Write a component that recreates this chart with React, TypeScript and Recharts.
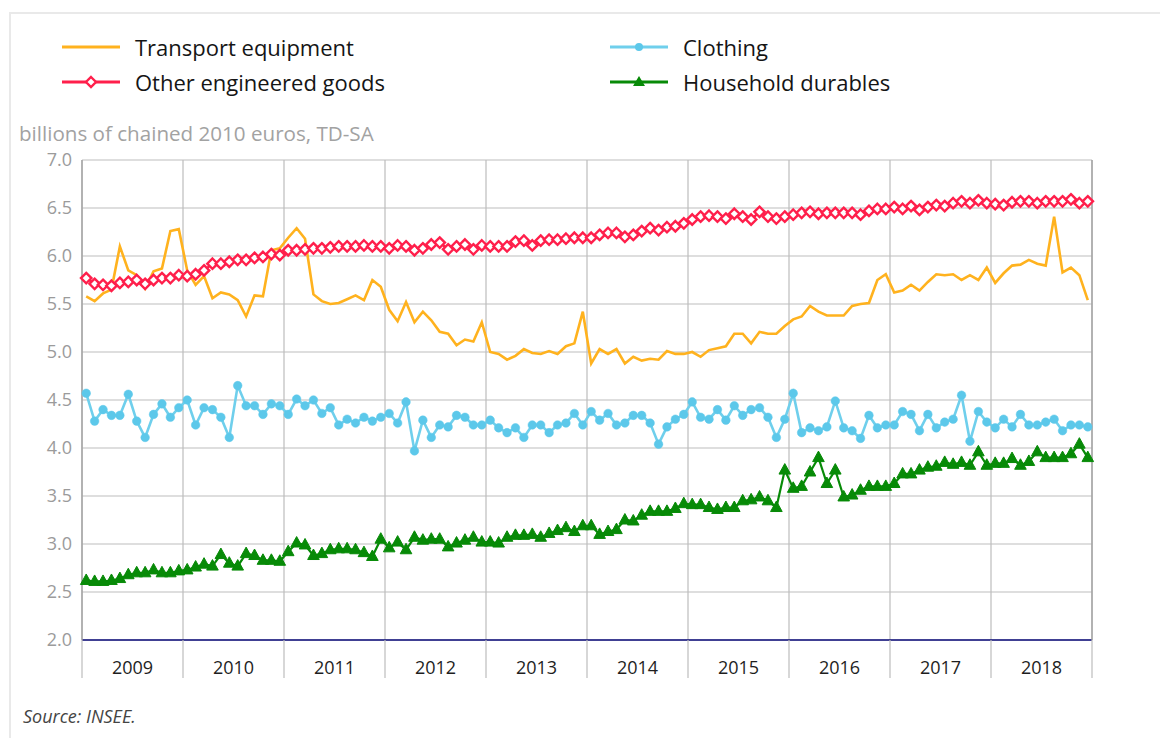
import React from 'react';
import { CartesianGrid, Line, LineChart, XAxis, YAxis } from 'recharts';

const FONT = "'Open Sans', sans-serif";
const GRID = '#BDBDBD';
const AXIS = '#A3A3A3';
const LABEL = '#9B9B9B';

const ORANGE = '#FFB21E';
const RED = '#FF1F4B';
const BLUE = '#6FCFEC';
const BLUE_DOT = '#5CC8EA';
const GREEN = '#078A07';

const YEARS = ['2009', '2010', '2011', '2012', '2013', '2014', '2015', '2016', '2017', '2018'];

// monthly values, Jan 2009 .. Dec 2018
const TRANSPORT = [
  5.58, 5.53, 5.61, 5.65, 6.1, 5.85, 5.8, 5.66, 5.84, 5.87, 6.26, 6.28,
  5.85, 5.7, 5.79, 5.56, 5.62, 5.6, 5.54, 5.37, 5.59, 5.58, 6.06, 6.08,
  6.19, 6.29, 6.18, 5.6, 5.53, 5.5, 5.51, 5.55, 5.59, 5.54, 5.75, 5.68,
  5.44, 5.32, 5.52, 5.31, 5.42, 5.33, 5.21, 5.19, 5.07, 5.13, 5.11, 5.31,
  5.0, 4.98, 4.92, 4.96, 5.03, 4.99, 4.98, 5.01, 4.98, 5.06, 5.09, 5.42,
  4.88, 5.03, 4.98, 5.03, 4.88, 4.95, 4.91, 4.93, 4.92, 5.01, 4.98, 4.98,
  5.0, 4.95, 5.02, 5.04, 5.06, 5.19, 5.19, 5.09, 5.21, 5.19, 5.19, 5.27,
  5.34, 5.37, 5.48, 5.42, 5.38, 5.38, 5.38, 5.48, 5.5, 5.51, 5.75, 5.81,
  5.62, 5.64, 5.7, 5.64, 5.73, 5.81, 5.8, 5.81, 5.75, 5.8, 5.75, 5.88,
  5.72, 5.82, 5.9, 5.91, 5.96, 5.92, 5.9, 6.41, 5.83, 5.88, 5.8, 5.54,
];

const OTHER = [
  5.77, 5.71, 5.7, 5.69, 5.72, 5.73, 5.75, 5.71, 5.75, 5.77, 5.77, 5.8,
  5.79, 5.81, 5.85, 5.92, 5.92, 5.94, 5.96, 5.96, 5.98, 5.99, 6.02, 6.01,
  6.06, 6.06, 6.07, 6.08, 6.08, 6.09, 6.1, 6.1, 6.1, 6.11, 6.1, 6.1,
  6.08, 6.11, 6.1, 6.06, 6.08, 6.12, 6.14, 6.07, 6.1, 6.12, 6.07, 6.11,
  6.1, 6.1, 6.1, 6.15, 6.16, 6.11, 6.16, 6.17, 6.17, 6.18, 6.19, 6.19,
  6.19, 6.22, 6.24, 6.24, 6.2, 6.22, 6.26, 6.29, 6.27, 6.3, 6.31, 6.34,
  6.38, 6.41, 6.42, 6.41, 6.39, 6.44, 6.41, 6.38, 6.46, 6.41, 6.39, 6.41,
  6.43, 6.45, 6.46, 6.44, 6.45, 6.45, 6.45, 6.45, 6.43, 6.47, 6.49, 6.49,
  6.51, 6.49, 6.52, 6.48, 6.51, 6.53, 6.52, 6.55, 6.57, 6.55, 6.58, 6.55,
  6.54, 6.53, 6.56, 6.57, 6.57, 6.55, 6.57, 6.57, 6.57, 6.59, 6.55, 6.57,
];

const CLOTHING = [
  4.57, 4.28, 4.4, 4.34, 4.34, 4.56, 4.28, 4.11, 4.35, 4.46, 4.32, 4.42,
  4.5, 4.24, 4.42, 4.4, 4.32, 4.11, 4.65, 4.44, 4.44, 4.35, 4.46, 4.44,
  4.35, 4.51, 4.44, 4.5, 4.36, 4.42, 4.24, 4.3, 4.26, 4.32, 4.28, 4.32,
  4.36, 4.26, 4.48, 3.97, 4.29, 4.11, 4.24, 4.22, 4.34, 4.32, 4.24, 4.24,
  4.29, 4.21, 4.16, 4.21, 4.11, 4.24, 4.24, 4.16, 4.24, 4.26, 4.36, 4.24,
  4.38, 4.29, 4.36, 4.24, 4.26, 4.34, 4.34, 4.26, 4.04, 4.22, 4.3, 4.35,
  4.48, 4.32, 4.3, 4.4, 4.29, 4.44, 4.34, 4.4, 4.42, 4.32, 4.11, 4.3,
  4.57, 4.16, 4.21, 4.18, 4.22, 4.49, 4.21, 4.18, 4.1, 4.34, 4.21, 4.24,
  4.24, 4.38, 4.35, 4.18, 4.35, 4.21, 4.27, 4.3, 4.55, 4.07, 4.38, 4.27,
  4.21, 4.3, 4.22, 4.35, 4.24, 4.24, 4.27, 4.3, 4.18, 4.24, 4.24, 4.22,
];

const HOUSEHOLD = [
  2.62, 2.61, 2.61, 2.62, 2.64, 2.68, 2.7, 2.7, 2.73, 2.7, 2.7, 2.72,
  2.73, 2.76, 2.79, 2.77, 2.89, 2.8, 2.77, 2.9, 2.88, 2.83, 2.83, 2.82,
  2.92, 3.01, 2.99, 2.88, 2.9, 2.94, 2.95, 2.95, 2.94, 2.91, 2.87, 3.05,
  2.96, 3.02, 2.94, 3.07, 3.04, 3.05, 3.05, 2.97, 3.01, 3.04, 3.07, 3.02,
  3.02, 3.01, 3.07, 3.09, 3.09, 3.1, 3.07, 3.11, 3.14, 3.17, 3.13, 3.19,
  3.19, 3.1, 3.13, 3.15, 3.25, 3.24, 3.3, 3.34, 3.34, 3.34, 3.37, 3.42,
  3.41, 3.41, 3.38, 3.36, 3.38, 3.38, 3.45, 3.46, 3.49, 3.45, 3.38, 3.77,
  3.58, 3.6, 3.75, 3.9, 3.63, 3.77, 3.49, 3.51, 3.56, 3.6, 3.6, 3.6,
  3.63, 3.73, 3.73, 3.77, 3.8, 3.81, 3.85, 3.83, 3.85, 3.82, 3.96, 3.82,
  3.84, 3.84, 3.89, 3.82, 3.86, 3.96, 3.9, 3.9, 3.9, 3.94, 4.04, 3.9,
];

const Y_TICKS = [2, 2.5, 3, 3.5, 4, 4.5, 5, 5.5, 6, 6.5, 7];

// year boundaries (gridlines) and mid-year positions (labels), in months
const YEAR_EDGES = [...YEARS.map((_, i) => i * 12), YEARS.length * 12];
const YEAR_MIDS = YEARS.map((_, i) => i * 12 + 6);
const MONTHS = YEARS.length * 12;

const rows = TRANSPORT.map((v, i) => ({
  x: i + 0.5,
  transport: v,
  other: OTHER[i],
  clothing: CLOTHING[i],
  household: HOUSEHOLD[i],
}));

function Diamond(props: any) {
  const { cx, cy, index } = props;
  if (cx == null || cy == null) return <g key={index} />;
  const r = 5.2;
  return (
    <polygon
      key={index}
      points={`${cx},${cy - r} ${cx + r},${cy} ${cx},${cy + r} ${cx - r},${cy}`}
      fill="#fff"
      stroke={RED}
      strokeWidth={2.4}
    />
  );
}

function Triangle(props: any) {
  const { cx, cy, index } = props;
  if (cx == null || cy == null) return <g key={index} />;
  return (
    <polygon
      key={index}
      points={`${cx},${cy - 6.5} ${cx + 5.8},${cy + 4} ${cx - 5.8},${cy + 4}`}
      fill={GREEN}
      stroke={GREEN}
      strokeWidth={1}
    />
  );
}

function Swatch({ color, marker }: { color: string; marker?: 'diamond' | 'circle' | 'triangle' }) {
  return (
    <svg width={58} height={14} style={{ display: 'block' }}>
      <line x1={0} y1={7} x2={58} y2={7} stroke={color} strokeWidth={3} />
      {marker === 'diamond' && (
        <polygon points="29,2 34,7 29,12 24,7" fill="#fff" stroke={color} strokeWidth={2.4} />
      )}
      {marker === 'circle' && <circle cx={29} cy={7} r={4} fill={BLUE_DOT} />}
      {marker === 'triangle' && <polygon points="29,1 35,11 23,11" fill={color} />}
    </svg>
  );
}

const legendText: React.CSSProperties = { fontSize: 22, color: '#151515', whiteSpace: 'nowrap' };

function LegendItem({ left, top, label, color, marker }: any) {
  return (
    <div
      style={{ position: 'absolute', left, top, display: 'flex', alignItems: 'center', height: 28 }}
    >
      <Swatch color={color} marker={marker} />
      <span style={{ ...legendText, marginLeft: 15 }}>{label}</span>
    </div>
  );
}

// tick lines only, no label
const NoLabel = () => <g />;

export default function App() {
  return (
    <div style={{ position: 'relative', width: 1160, height: 730, overflow: 'hidden', fontFamily: FONT }}>
      <div
        style={{
          position: 'absolute',
          left: 1,
          top: 4,
          width: 1240,
          height: 800,
          border: '2px solid #E9E9E9',
        }}
      />
      <LegendItem left={54} top={25} label="Transport equipment" color={ORANGE} />
      <LegendItem left={54} top={60} label="Other engineered goods" color={RED} marker="diamond" />
      <LegendItem left={602} top={25} label="Clothing" color={BLUE} marker="circle" />
      <LegendItem left={602} top={60} label="Household durables" color={GREEN} marker="triangle" />
      <div
        style={{
          position: 'absolute',
          left: 11,
          top: 111,
          fontSize: 20.6,
          color: '#A2A2A2',
          whiteSpace: 'nowrap',
        }}
      >
        billions of chained 2010 euros, TD-SA
      </div>
      <div
        style={{
          position: 'absolute',
          left: 15,
          top: 696,
          fontSize: 18,
          fontStyle: 'italic',
          color: '#444',
        }}
      >
        Source: INSEE.
      </div>
      <div style={{ position: 'absolute', left: 0, top: 0 }}>
        <LineChart
          width={1160}
          height={720}
          data={rows}
          margin={{ top: 152, right: 16, bottom: 47, left: 14 }}
        >
          <CartesianGrid
            xAxisId="grid"
            yAxisId="left"
            stroke={GRID}
            strokeWidth={1.2}
            horizontalValues={Y_TICKS}
            verticalValues={YEAR_EDGES}
          />
          <XAxis
            xAxisId="grid"
            dataKey="x"
            type="number"
            domain={[0, MONTHS]}
            ticks={YEAR_EDGES}
            tick={NoLabel}
            tickSize={38}
            tickLine={{ stroke: GRID, strokeWidth: 1.2 }}
            axisLine={{ stroke: '#0B0B7A', strokeWidth: 1.6 }}
            height={1}
            interval={0}
          />
          <XAxis
            xAxisId="year"
            dataKey="x"
            type="number"
            domain={[0, MONTHS]}
            ticks={YEAR_MIDS}
            tickFormatter={(v: number) => YEARS[Math.round((v - 6) / 12)]}
            tick={{ fontSize: 18, fill: '#1E1E1E', fontFamily: FONT }}
            tickLine={false}
            axisLine={false}
            tickSize={0}
            tickMargin={20}
            height={40}
            interval={0}
          />
          <YAxis
            yAxisId="left"
            domain={[2, 7]}
            ticks={Y_TICKS}
            tickFormatter={(v: number) => v.toFixed(1)}
            tick={{ fontSize: 18, fill: LABEL, fontFamily: FONT }}
            tickLine={false}
            tickSize={0}
            tickMargin={10}
            axisLine={{ stroke: AXIS, strokeWidth: 1.4 }}
            width={60}
            interval={0}
          />
          <YAxis
            yAxisId="right"
            orientation="right"
            domain={[2, 7]}
            ticks={Y_TICKS}
            tickFormatter={(v: number) => v.toFixed(1)}
            tick={{ fontSize: 18, fill: LABEL, fontFamily: FONT }}
            tickLine={false}
            tickSize={0}
            tickMargin={10}
            axisLine={{ stroke: AXIS, strokeWidth: 1.4 }}
            width={60}
            interval={0}
          />
          <Line
            xAxisId="grid"
            yAxisId="left"
            dataKey="transport"
            type="linear"
            stroke={ORANGE}
            strokeWidth={2.6}
            dot={false}
            isAnimationActive={false}
          />
          <Line
            xAxisId="grid"
            yAxisId="left"
            dataKey="clothing"
            type="linear"
            stroke={BLUE}
            strokeWidth={2.6}
            dot={{ r: 4.3, fill: BLUE_DOT, stroke: BLUE_DOT, strokeWidth: 0.5 }}
            isAnimationActive={false}
          />
          <Line
            xAxisId="grid"
            yAxisId="left"
            dataKey="other"
            type="linear"
            stroke={RED}
            strokeWidth={2.4}
            dot={<Diamond />}
            isAnimationActive={false}
          />
          <Line
            xAxisId="grid"
            yAxisId="left"
            dataKey="household"
            type="linear"
            stroke={GREEN}
            strokeWidth={2.2}
            dot={<Triangle />}
            isAnimationActive={false}
          />
        </LineChart>
      </div>
    </div>
  );
}
